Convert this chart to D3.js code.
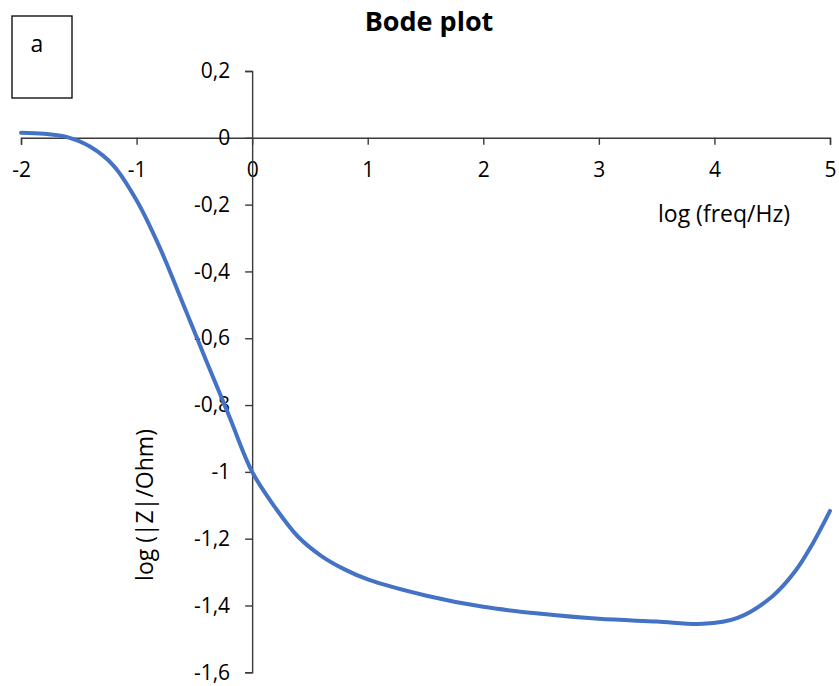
<!DOCTYPE html>
<html>
<head>
<meta charset="utf-8">
<script src="https://cdn.jsdelivr.net/npm/d3@7"></script>
<style>
  body { margin: 0; background: #fff; }
  svg text { font-family: "Open Sans", "Noto Sans", sans-serif; fill: #000; }
  .axis path, .axis line { stroke: #3a3a3a; stroke-width: 1.4; }
</style>
</head>
<body>
<div id="chart"></div>
<script>
// Chart size
const width = 839;
const height = 686;

// Data: log(freq/Hz) vs log(|Z|/Ohm)
const logFreq = [-2, -1.8, -1.6, -1.4, -1.2, -1.0, -0.8, -0.6, -0.4, -0.2, 0, 0.2, 0.4, 0.6, 0.8, 1.0, 1.5, 2.0, 2.5, 3.0, 3.5, 3.9, 4.2, 4.5, 4.7, 4.85, 5.0];
const logZ = [0.015, 0.012, 0.002, -0.027, -0.083, -0.187, -0.328, -0.495, -0.665, -0.832, -1.0, -1.107, -1.195, -1.252, -1.292, -1.322, -1.37, -1.404, -1.425, -1.44, -1.448, -1.455, -1.437, -1.373, -1.297, -1.215, -1.117];

// Axis ticks
const xTicks = [-2, -1, 0, 1, 2, 3, 4, 5];
const yTicks = [0.2, 0, -0.2, -0.4, -0.6, -0.8, -1, -1.2, -1.4, -1.6];

const commaFmt = d => String(d).replace('.', ',');

const svg = d3.select('#chart')
  .append('svg')
  .attr('width', width)
  .attr('height', height);

// Scales
const xScale = d3.scaleLinear().domain([-2, 5]).range([21, 830]);
const yScale = d3.scaleLinear().domain([-1.6, 0.2]).range([672.3, 71]);

// Title
svg.append('text')
  .attr('x', 429)
  .attr('y', 31)
  .attr('text-anchor', 'middle')
  .style('font-size', '27px')
  .style('font-weight', 'bold')
  .text('Bode plot');

// Label box "a"
svg.append('rect')
  .attr('x', 12)
  .attr('y', 16)
  .attr('width', 60)
  .attr('height', 82)
  .attr('fill', 'none')
  .attr('stroke', '#000')
  .attr('stroke-width', 1.3);

svg.append('text')
  .attr('x', 37)
  .attr('y', 52)
  .attr('text-anchor', 'middle')
  .style('font-size', '23px')
  .text('a');

// x axis crossing at y = 0
const xAxis = svg.append('g')
  .attr('class', 'axis')
  .attr('transform', `translate(0,${yScale(0)})`)
  .call(d3.axisBottom(xScale)
    .tickValues(xTicks)
    .tickSizeInner(7)
    .tickSizeOuter(7)
    .tickPadding(17)
    .tickFormat(commaFmt));

xAxis.selectAll('text')
  .style('font-size', '21px')
  .attr('fill', '#000');

// y axis crossing at x = 0
const yAxis = svg.append('g')
  .attr('class', 'axis')
  .attr('transform', `translate(${xScale(0)},0)`)
  .call(d3.axisLeft(yScale)
    .tickValues(yTicks)
    .tickSizeInner(7)
    .tickSizeOuter(7)
    .tickPadding(15)
    .tickFormat(commaFmt));

yAxis.selectAll('text')
  .style('font-size', '21px')
  .attr('fill', '#000');

// Axis titles
svg.append('text')
  .attr('x', 724)
  .attr('y', 222)
  .attr('text-anchor', 'middle')
  .style('font-size', '23px')
  .text('log (freq/Hz)');

svg.append('text')
  .attr('transform', 'translate(153,505) rotate(-90)')
  .attr('text-anchor', 'middle')
  .style('font-size', '23px')
  .text('log (|Z|/Ohm)');

// Curve
const points = logFreq.map((f, i) => [f, logZ[i]]);

const line = d3.line()
  .x(d => xScale(d[0]))
  .y(d => yScale(d[1]))
  .curve(d3.curveCatmullRom.alpha(0.5));

svg.append('path')
  .datum(points)
  .attr('d', line)
  .attr('fill', 'none')
  .attr('stroke', '#4472C4')
  .attr('stroke-width', 4)
  .attr('stroke-linecap', 'round');
</script>
</body>
</html>
